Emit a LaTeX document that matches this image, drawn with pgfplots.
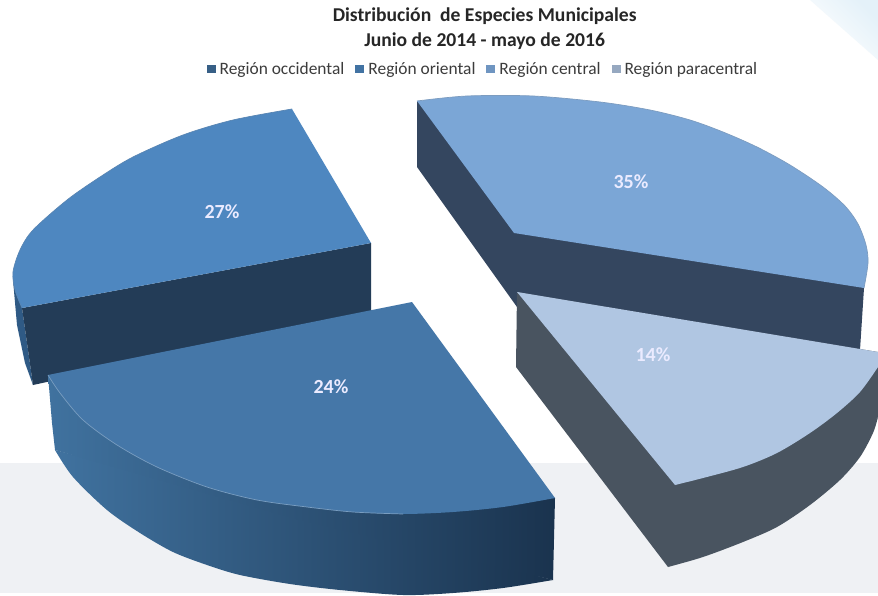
\documentclass[border=0pt]{standalone}
\usepackage{pgfplots}
\pgfplotsset{compat=1.18}
\usepackage{fontspec}
\setmainfont{Carlito}
\definecolor{bandgrey}{HTML}{EFF1F4}
\definecolor{pale}{HTML}{E4F1F9}
\definecolor{topA}{HTML}{4E87C0}
\definecolor{sideA}{HTML}{233C57}
\definecolor{edgeA}{HTML}{2F5A85}
\definecolor{topB}{HTML}{4577A8}
\definecolor{sideBl}{HTML}{40729F}
\definecolor{sideBr}{HTML}{1A334E}
\definecolor{topC}{HTML}{7BA6D6}
\definecolor{sideC}{HTML}{34465F}
\definecolor{topD}{HTML}{B0C6E2}
\definecolor{sideD}{HTML}{495460}
\definecolor{legtext}{HTML}{3C3C3C}
\begin{document}
\begin{tikzpicture}
\begin{axis}[
    scale only axis,
    width=878pt,
    height=596pt,
    xmin=0, xmax=878,
    ymin=0, ymax=596,
    y dir=reverse,
    hide axis,
    title={Distribución\ \ de Especies Municipales\\Junio de 2014 - mayo de 2016},
    title style={at={(0.552,0.9825)}, anchor=north, align=center, font=\fontsize{19.6}{25}\selectfont\bfseries, text=black!85},
    legend columns=4,
    legend cell align=left,
    legend image code/.code={\path[#1, draw=none] (0pt,-4pt) rectangle (9pt,4pt); \path[draw=none, fill=none] (0pt,0pt) -- (11pt,0pt);},
    legend style={at={(0.550,0.8835)}, anchor=center, draw=none, fill=none, inner sep=0pt,
        font=\fontsize{17.4}{20}\selectfont\color{legtext},
        /tikz/every even column/.append style={column sep=9pt}},
]
% background
\addplot[fill=white, draw=none, forget plot] coordinates {(0,0) (878,0) (878,596) (0,596)};
\addplot[fill=bandgrey, draw=none, forget plot] coordinates {(0,463) (878,463) (878,593) (0,593)};
\addplot[top color=pale, bottom color=white, shading angle=-45, draw=none, forget plot] coordinates {(810,0) (878,60) (878,0)};

% 27 %
\addplot[fill=edgeA, draw=none, forget plot] coordinates {(13,280) (17,325) (25,363) (33,385) (22,308)};
\addplot[fill=sideA, draw=none, forget plot] coordinates {(22,308) (371,243) (371,312) (33,385)};
\addplot[fill=topA, draw=none, forget plot] coordinates {(292,109) (371,243) (22,308) (100,195)};
\addplot[fill=topA, draw=topA!80!gray, line width=0.7pt, smooth, forget plot] coordinates {(292,109) (233,120) (183,135) (133,157) (100,177) (67,200) (33,230) (20,250) (13,272) (15,290) (22,308)};

% 35 %
\addplot[fill=sideC, draw=none, forget plot] coordinates {(417,101) (864,288) (860,350) (517,307) (417,167)};
\addplot[fill=topC, draw=none, forget plot] coordinates {(417,101) (514,233) (864,288) (700,135)};
\addplot[fill=topC, draw=topC!75!gray, line width=0.7pt, smooth, forget plot] coordinates {(417,101) (467,96) (533,96) (600,102) (650,110) (690,120) (723,132) (757,147) (790,165) (823,187) (845,206) (858,224) (866,245) (868,263) (864,288)};

% 24 %
\addplot[left color=sideBl, right color=sideBr, draw=none, smooth, forget plot] coordinates {(55,450) (73,477) (107,510) (140,533) (173,552) (207,565) (240,575) (290,584) (340,590) (403,595) (453,593) (503,588) (553,580)};
\addplot[left color=sideBl, right color=sideBr, draw=none, forget plot] coordinates {(48,375) (52,423) (55,450) (300,520) (553,580) (555,498)};
\addplot[fill=topB, draw=none, forget plot] coordinates {(412,302) (555,498) (350,500) (48,375)};
\addplot[fill=topB, draw=none, smooth, forget plot] coordinates {(48,375) (60,393) (83,420) (117,445) (157,467) (207,487) (257,500) (307,507) (353,512) (403,514) (453,512) (503,507) (555,498)};
\addplot[color=topB!72!white, line width=0.7pt, smooth, forget plot] coordinates {(48,375) (60,393) (83,420) (117,445) (157,467) (207,487) (257,500) (307,507) (353,512) (403,514)};

% 14 %
\addplot[fill=sideD, draw=none, forget plot] coordinates {(517,292) (516,367) (668,567) (790,500) (878,417) (878,352)};
\addplot[fill=sideD, draw=none, smooth, forget plot] coordinates {(668,567) (703,557) (743,542) (777,527) (810,505) (840,480) (860,457) (873,433) (878,417)};
\addplot[fill=topD, draw=none, forget plot] coordinates {(517,292) (878,352) (878,367) (780,440) (675,485)};
\addplot[fill=topD, draw=none, smooth, forget plot] coordinates {(878,367) (860,392) (837,413) (810,433) (777,453) (743,467) (703,478) (675,485)};

% value labels
\addplot[only marks, mark=none, forget plot, point meta=explicit symbolic,
    nodes near coords, nodes near coords align={anchor=center},
    every node near coord/.append style={font=\fontsize{20}{22}\selectfont\bfseries, text=white!92!blue}]
    coordinates {(222,212) [27\%] (331,387) [24\%] (631,182) [35\%] (653,355) [14\%]};

% legend
\addlegendimage{fill=topB!80!black}
\addlegendentry{Región occidental}
\addlegendimage{fill=topA!85!black}
\addlegendentry{Región oriental}
\addlegendimage{fill=topC!90!black}
\addlegendentry{Región central}
\addlegendimage{fill=topD!85!black}
\addlegendentry{Región paracentral}
\end{axis}
\end{tikzpicture}
\end{document}
